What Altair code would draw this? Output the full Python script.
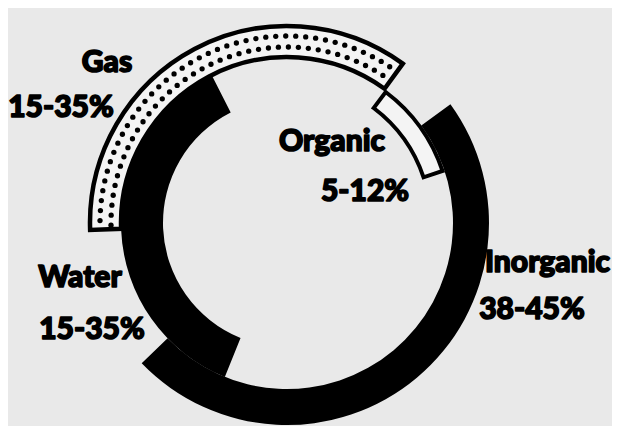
import math
import altair as alt
import pandas as pd

# ---- data ----
segments = ["Gas", "Organic", "Inorganic", "Water"]
ranges = ["15-35%", "5-12%", "38-45%", "15-35%"]
arc_start = [268, 37, 54, 202]      # degrees, clockwise from 12 o'clock
arc_end = [396, 71.5, 226, 333]

df = pd.DataFrame({"segment": segments, "range": ranges,
                   "start": arc_start, "end": arc_end})

# ---- layout / style ----
W, H = 604, 418
CX, CY = 279, 215
R = 166
BG = "#e9e9e9"
FONT = "Lato, Liberation Sans, Arial, sans-serif"

theta_scale = alt.Scale(domain=[0, 360], range=[0, 2 * math.pi])


def arc(seg, outer, inner, fill, stroke=None, sw=0):
    kw = dict(radius=outer, radius2=inner, fill=fill)
    if stroke:
        kw.update(stroke=stroke, strokeWidth=sw, strokeJoin="miter")
    return (alt.Chart(df)
            .transform_filter(alt.datum.segment == seg)
            .mark_arc(**kw)
            .encode(theta=alt.Theta("start:Q", scale=theta_scale, stack=None),
                    theta2="end:Q",
                    x=alt.value(CX), y=alt.value(CY)))


gas = arc("Gas", R + 31, R, "#f4f4f4", "black", 4.5)
water = arc("Water", R, R - 42, "black")
inorganic = arc("Inorganic", R + 36, R, "black")
organic = arc("Organic", R - 2, R - 22, "#f4f4f4", "black", 4)

gas_s = math.radians(arc_start[0])
gas_e = math.radians(arc_end[0])

dots = (alt.Chart(alt.sequence(0, 100, as_="i"))
        .transform_calculate(row="datum.i % 2", k="floor(datum.i / 2)")
        .transform_calculate(r=f"{R + 10} + 11 * datum.row")
        .transform_calculate(t=f"{gas_s} + (datum.k + 0.4 + 0.5 * datum.row) * 10 / datum.r")
        .transform_filter(f"datum.t < {gas_e} - 0.03")
        .transform_calculate(px=f"{CX} + datum.r * sin(datum.t)",
                             py=f"{CY} - datum.r * cos(datum.t)")
        .mark_circle(size=28, color="black", opacity=1)
        .encode(x=alt.X("px:Q", scale=alt.Scale(domain=[0, W], range=[0, W], nice=False, zero=False), axis=None),
                y=alt.Y("py:Q", scale=alt.Scale(domain=[0, H], range=[0, H], nice=False, zero=False), axis=None)))


def label(field, seg, x, y, align="center"):
    return (alt.Chart(df)
            .transform_filter(alt.datum.segment == seg)
            .mark_text(font=FONT, fontSize=30, fontWeight=900, align=align,
                       baseline="alphabetic", color="black",
                       stroke="black", strokeWidth=1.6, strokeJoin="round")
            .encode(text=f"{field}:N", x=alt.value(x), y=alt.value(y)))


labels = [
    label("segment", "Gas", 99, 64),
    label("range", "Gas", 53, 109),
    label("segment", "Organic", 324, 143),
    label("range", "Organic", 357, 193),
    label("segment", "Inorganic", 602, 264, "right"),
    label("range", "Inorganic", 524, 311),
    label("segment", "Water", 72, 279),
    label("range", "Water", 84, 331),
]

chart = (alt.layer(gas, dots, water, inorganic, organic, *labels)
         .properties(width=W, height=H, padding=0,
                     autosize=alt.AutoSizeParams(type="none"),
                     background=BG)
         .configure_view(stroke=None))

chart.save("out.html", embed_options={"renderer": "svg", "actions": False})
